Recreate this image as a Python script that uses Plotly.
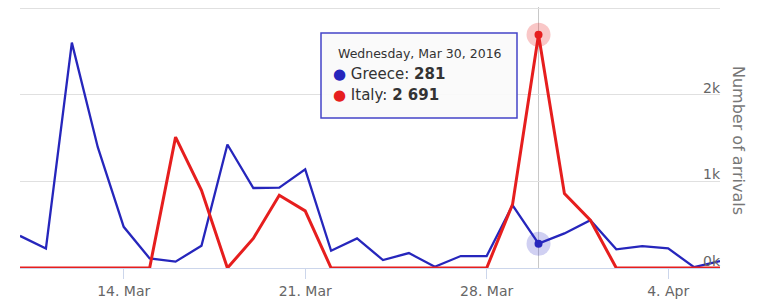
import plotly.graph_objects as go

dates = ["2016-03-10", "2016-03-11", "2016-03-12", "2016-03-13", "2016-03-14",
         "2016-03-15", "2016-03-16", "2016-03-17", "2016-03-18", "2016-03-19",
         "2016-03-20", "2016-03-21", "2016-03-22", "2016-03-23", "2016-03-24",
         "2016-03-25", "2016-03-26", "2016-03-27", "2016-03-28", "2016-03-29",
         "2016-03-30", "2016-03-31", "2016-04-01", "2016-04-02", "2016-04-03",
         "2016-04-04", "2016-04-05", "2016-04-06"]

greece = [371, 226, 2601, 1394, 475, 111, 73, 257, 1425, 923,
          927, 1138, 199, 341, 92, 172, 15, 138, 138, 724,
          281, 399, 552, 215, 253, 226, 10, 80]

italy = [0, 0, 0, 0, 0, 0, 1510, 897, 0, 341,
         839, 659, 0, 0, 0, 0, 0, 0, 0, 736,
         2691, 858, 552, 0, 0, 0, 0, 0]

x_tick_vals = ["2016-03-14", "2016-03-21", "2016-03-28", "2016-04-04"]
x_tick_text = ["14. Mar", "21. Mar", "28. Mar", "4. Apr"]
y_tick_vals = [0, 1000, 2000, 3000]
y_tick_text = ["0k", "1k", "2k", ""]

hover_idx = 20
hover_header = "Wednesday, Mar 30, 2016"

BLUE = "#2626bc"
RED = "#e61e1e"
FONT = "DejaVu Sans"


def fmt(v):
    return f"{v:,}".replace(",", " ")


fig = go.Figure()

fig.add_trace(go.Scatter(x=dates, y=greece, mode="lines", name="Greece",
                         line=dict(color=BLUE, width=2.3)))
fig.add_trace(go.Scatter(x=dates, y=italy, mode="lines", name="Italy",
                         line=dict(color=RED, width=3)))

# hover halos + markers
for series, col, halo in ((greece, BLUE, "rgba(43,43,196,0.22)"),
                          (italy, RED, "rgba(230,30,30,0.25)")):
    fig.add_trace(go.Scatter(x=[dates[hover_idx]], y=[series[hover_idx]], mode="markers",
                             marker=dict(size=24, color=halo, line=dict(width=0)),
                             showlegend=False))
    fig.add_trace(go.Scatter(x=[dates[hover_idx]], y=[series[hover_idx]], mode="markers",
                             marker=dict(size=8, color=col, line=dict(width=0)),
                             showlegend=False))

# crosshair
fig.add_shape(type="line", xref="x", yref="paper", x0=dates[hover_idx], x1=dates[hover_idx],
              y0=0, y1=1, line=dict(color="#c8c8c8", width=1), layer="below")

# tooltip box
L, T, W, H = 20, 7, 700, 261


def px(x):
    return (x - L) / W


def py(y):
    return (T + H - y) / H


fig.add_shape(type="rect", xref="paper", yref="paper",
              x0=px(321), x1=px(517), y0=py(118), y1=py(33),
              fillcolor="rgba(250,250,250,0.92)", line=dict(color="#4444c8", width=1.5))

fig.add_annotation(xref="paper", yref="paper", x=px(336), y=py(53), xanchor="left", yanchor="middle",
                   text=hover_header, showarrow=False,
                   font=dict(family=FONT, size=12.5, color="#333333"))
fig.add_annotation(xref="paper", yref="paper", x=px(331), y=py(74), xanchor="left", yanchor="middle",
                   text=f"<span style='color:{BLUE}'>●</span> Greece: <b>{fmt(greece[hover_idx])}</b>",
                   showarrow=False, font=dict(family=FONT, size=15, color="#333333"))
fig.add_annotation(xref="paper", yref="paper", x=px(331), y=py(95), xanchor="left", yanchor="middle",
                   text=f"<span style='color:{RED}'>●</span> Italy: <b>{fmt(italy[hover_idx])}</b>",
                   showarrow=False, font=dict(family=FONT, size=15, color="#333333"))

# y axis title (reads top-to-bottom)
fig.add_annotation(xref="paper", yref="paper", x=px(739), y=py(140), xanchor="center", yanchor="middle",
                   text="Number of arrivals", textangle=90, showarrow=False,
                   font=dict(family=FONT, size=16, color="#777777"))

fig.update_layout(
    width=761, height=300,
    margin=dict(l=20, r=41, t=7, b=32),
    paper_bgcolor="white", plot_bgcolor="white",
    showlegend=False,
    font=dict(family=FONT, size=14, color="#666666"),
    xaxis=dict(range=[dates[0], dates[-1]], tickvals=x_tick_vals, ticktext=x_tick_text,
               showgrid=False, zeroline=False, showline=True, linecolor="#ccd6eb", linewidth=1,
               ticks="outside", ticklen=10, tickcolor="#ccd6eb", automargin=False,
               tickfont=dict(family=FONT, size=14, color="#666666")),
    yaxis=dict(range=[0, 3012], side="right", tickvals=y_tick_vals, ticktext=y_tick_text,
               showgrid=True, gridcolor="#e0e0e0", gridwidth=1, zeroline=False, showline=False,
               ticklabelposition="inside", ticklabelshift=-7, ticklabelstandoff=-3,
               ticklabeloverflow="allow", automargin=False,
               tickfont=dict(family=FONT, size=14, color="#666666")),
)

fig.write_html("out.html", config={"displayModeBar": False, "responsive": False},
               post_script="document.body.style.margin='0px';")
